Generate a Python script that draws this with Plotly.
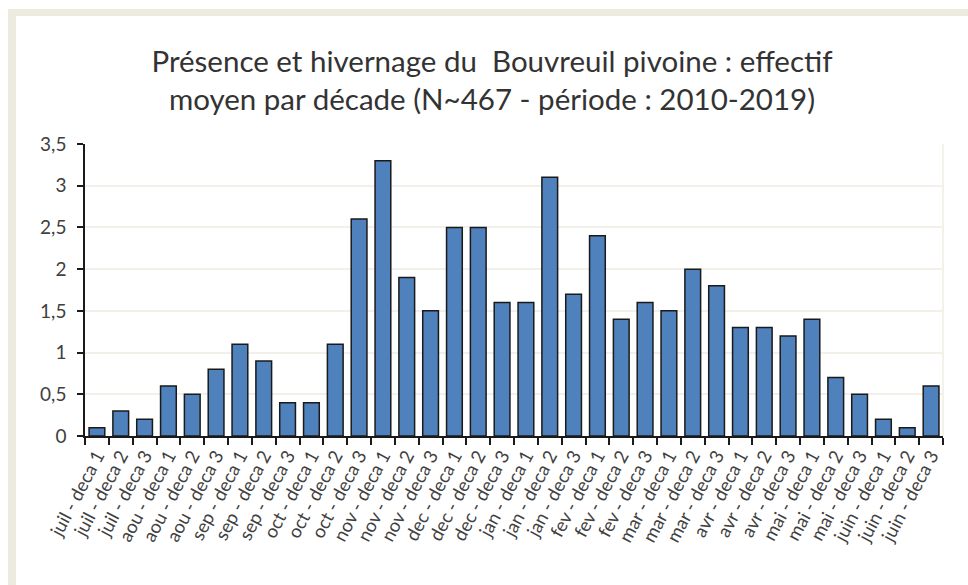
import plotly.graph_objects as go

months = ["juil", "aou", "sep", "oct", "nov", "dec", "jan", "fev", "mar", "avr", "mai", "juin"]
categories = [f"{m} - deca {d}" for m in months for d in (1, 2, 3)]
effectif = [0.1, 0.3, 0.2, 0.6, 0.5, 0.8, 1.1, 0.9, 0.4, 0.4, 1.1, 2.6,
            3.3, 1.9, 1.5, 2.5, 2.5, 1.6, 1.6, 3.1, 1.7, 2.4, 1.4, 1.6,
            1.5, 2.0, 1.8, 1.3, 1.3, 1.2, 1.4, 0.7, 0.5, 0.2, 0.1, 0.6]
y_ticks = [0, 0.5, 1, 1.5, 2, 2.5, 3, 3.5]

W, H = 968, 585
L, R, T, B = 85, 25, 144, 149
PW, PH = W - L - R, H - T - B


def px(x):
    return (x - L) / PW


def py(y):
    return 1 - (y - T) / PH


FRAME = "#EDEBE0"
TEXT = "#404040"
FONT = "Lato, Open Sans, sans-serif"

fig = go.Figure(go.Bar(
    x=categories,
    y=effectif,
    marker=dict(color="#4F81BD", line=dict(color="#1a1a1a", width=1.5)),
))

shapes = [
    # beige frame around the chart area (top and left bands)
    dict(type="rect", xref="paper", yref="paper", x0=px(8), x1=px(W + 5),
         y0=py(9), y1=py(16), fillcolor=FRAME, line=dict(width=0), layer="below"),
    dict(type="rect", xref="paper", yref="paper", x0=px(8), x1=px(16),
         y0=py(9), y1=py(H + 5), fillcolor=FRAME, line=dict(width=0), layer="below"),
    # faint right border of the plot area
    dict(type="line", xref="paper", yref="paper", x0=1, x1=1, y0=0, y1=1,
         line=dict(color="#EFEDE3", width=1.5), layer="below"),
]

fig.update_layout(
    width=W, height=H,
    margin=dict(l=L, r=R, t=T, b=B),
    paper_bgcolor="white",
    plot_bgcolor="white",
    separators=", ",
    bargap=0.34,
    showlegend=False,
    shapes=shapes,
    font=dict(family=FONT, color=TEXT),
    title=dict(
        text="Présence et hivernage du  Bouvreuil pivoine : effectif<br>moyen par décade (N~467 - période : 2010-2019)",
        x=492 / W, xanchor="center", xref="container",
        y=1 - 72 / H, yanchor="middle", yref="container",
        font=dict(size=29.5, color="#333333", family=FONT),
    ),
    xaxis=dict(
        tickangle=-62,
        tickfont=dict(size=18.5, color=TEXT),
        showline=True, linecolor="#1a1a1a", linewidth=1.5,
        ticks="outside", ticklen=7, tickcolor="#1a1a1a", tickwidth=1.5,
        tickson="boundaries",
        showgrid=False,
    ),
    yaxis=dict(
        range=[0, 3.5],
        tickvals=y_ticks,
        tickfont=dict(size=19, color=TEXT),
        ticklabelstandoff=7,
        showline=True, linecolor="#1a1a1a", linewidth=1.5,
        ticks="outside", ticklen=6, tickcolor="#1a1a1a", tickwidth=1.5,
        showgrid=True, gridcolor="#F2F0E8", gridwidth=1.5,
        zeroline=False,
    ),
)

fig.write_html("out.html")
